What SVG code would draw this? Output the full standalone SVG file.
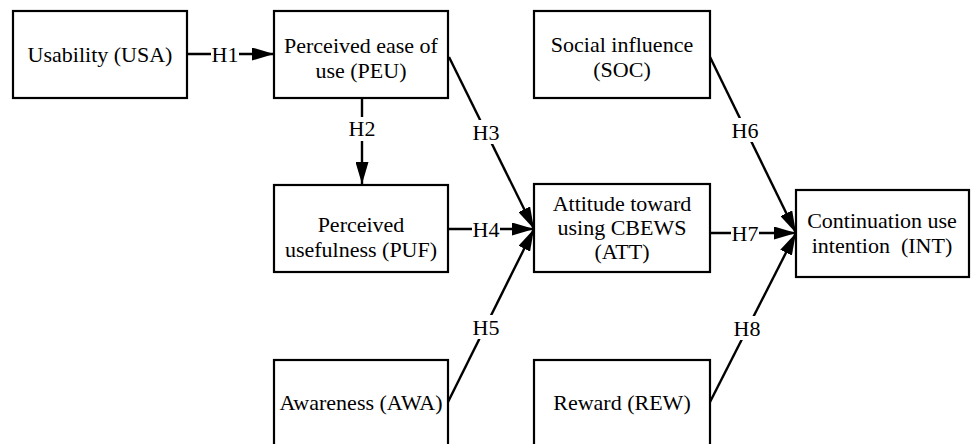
<svg xmlns="http://www.w3.org/2000/svg" width="971" height="444" viewBox="0 0 971 444">
<style>
.box{fill:#fff;stroke:#000;stroke-width:2.2}
.t{font-family:"Liberation Serif","Times New Roman",serif;font-size:22px;fill:#000;text-anchor:middle}
.c{stroke:#000;stroke-width:2.4;fill:none;marker-end:url(#ah)}
.lb{fill:#fff}
</style>
<defs>
<marker id="ah" markerUnits="userSpaceOnUse" markerWidth="22" markerHeight="13" refX="22" refY="6.5" orient="auto">
<path d="M0,0 L22,6.5 L0,13 z" fill="#000"/>
</marker>
</defs>
<rect width="971" height="444" fill="#fff"/>
<g id="connectors">
<line class="c" x1="187" y1="54" x2="274" y2="54"/>
<line class="c" x1="362" y1="98" x2="362" y2="184"/>
<line class="c" x1="449" y1="57" x2="534" y2="229"/>
<line class="c" x1="448" y1="229" x2="534" y2="229"/>
<line class="c" x1="448" y1="402" x2="534" y2="229"/>
<line class="c" x1="710" y1="57" x2="796" y2="233"/>
<line class="c" x1="710" y1="233" x2="796" y2="233"/>
<line class="c" x1="710" y1="402" x2="796" y2="233"/>
<rect class="lb" x="211" y="44" width="28" height="20"/>
<rect class="lb" x="348" y="117" width="28" height="24"/>
<rect class="lb" x="472" y="120" width="28" height="24"/>
<rect class="lb" x="472" y="219" width="28" height="20"/>
<rect class="lb" x="472" y="315" width="28" height="24"/>
<rect class="lb" x="731" y="118" width="28" height="24"/>
<rect class="lb" x="731" y="223" width="28" height="20"/>
<rect class="lb" x="733" y="316" width="28" height="24"/>
<text class="t" x="225" y="62">H1</text>
<text class="t" x="362" y="136">H2</text>
<text class="t" x="486" y="140">H3</text>
<text class="t" x="486" y="237">H4</text>
<text class="t" x="486" y="335">H5</text>
<text class="t" x="745" y="138">H6</text>
<text class="t" x="745" y="241">H7</text>
<text class="t" x="747" y="336">H8</text>
</g>
<g id="USA">
<rect class="box" x="13" y="11" width="174" height="87"/>
<text class="t" x="100" y="62">Usability (USA)</text>
</g>
<g id="PEU">
<rect class="box" x="274" y="11" width="174" height="87"/>
<text class="t" x="361" y="53">Perceived ease of</text>
<text class="t" x="361" y="78">use (PEU)</text>
</g>
<g id="SOC">
<rect class="box" x="534" y="11" width="176" height="87"/>
<text class="t" x="622" y="52">Social influence</text>
<text class="t" x="622" y="77">(SOC)</text>
</g>
<g id="PUF">
<rect class="box" x="274" y="185" width="174" height="87"/>
<text class="t" x="361" y="232">Perceived</text>
<text class="t" x="361" y="257">usefulness (PUF)</text>
</g>
<g id="ATT">
<rect class="box" x="534" y="184" width="176" height="88"/>
<text class="t" x="622" y="211">Attitude toward</text>
<text class="t" x="622" y="235">using CBEWS</text>
<text class="t" x="622" y="259">(ATT)</text>
</g>
<g id="INT">
<rect class="box" x="796" y="190" width="173" height="87"/>
<text class="t" x="882" y="228">Continuation use</text>
<text class="t" x="882" y="253" xml:space="preserve">intention  (INT)</text>
</g>
<g id="AWA">
<rect class="box" x="274" y="360" width="174" height="95"/>
<text class="t" x="361" y="410">Awareness (AWA)</text>
</g>
<g id="REW">
<rect class="box" x="534" y="360" width="176" height="95"/>
<text class="t" x="622" y="410">Reward (REW)</text>
</g>
</svg>
